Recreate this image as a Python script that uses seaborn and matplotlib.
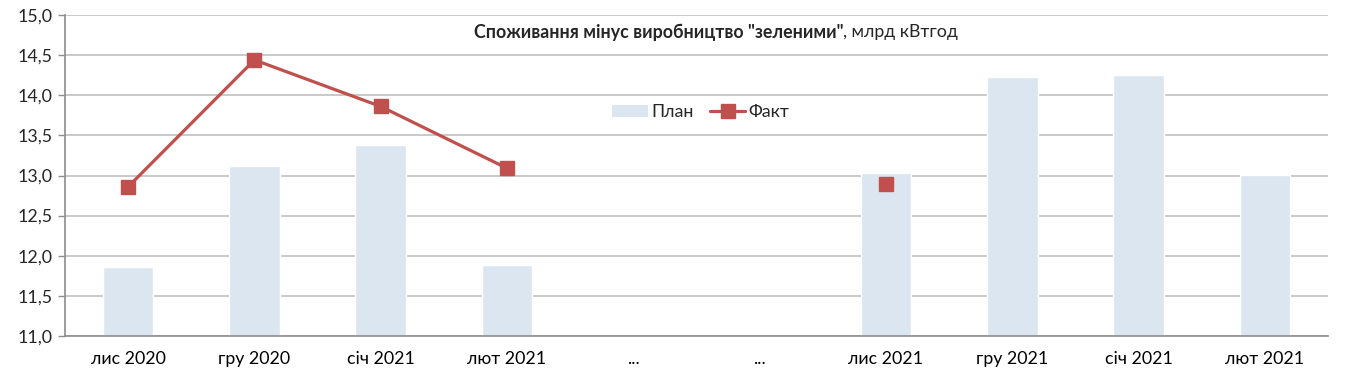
import numpy as np
import matplotlib
matplotlib.use("Agg")
import matplotlib.pyplot as plt
import seaborn as sns
import pandas as pd
from matplotlib.patches import Patch
from matplotlib.lines import Line2D
from matplotlib.ticker import FuncFormatter, MultipleLocator

categories = ["лис 2020", "гру 2020", "січ 2021", "лют 2021", "...", "...",
              "лис 2021", "гру 2021", "січ 2021", "лют 2021"]
plan = [11.86, 13.12, 13.38, 11.88, np.nan, np.nan, 13.03, 14.23, 14.25, 13.01]
fact = [12.86, 14.44, 13.86, 13.09, np.nan, np.nan, 12.90, np.nan, np.nan, np.nan]
title_bold = 'Споживання мінус виробництво "зеленими"'
title_normal = ', млрд кВтгод'

sns.set_style("white")
plt.rcParams['font.family'] = ['Lato', 'DejaVu Sans']
FS = 12.8

fig = plt.figure(figsize=(13.6, 3.78), dpi=100)
ax = fig.add_axes([65/1360, 1-336/378, (1328-65)/1360, (336-15)/378])

df = pd.DataFrame({"cat": [f"{i}" for i in range(len(categories))], "plan": plan})
sns.barplot(data=df, x="cat", y="plan", color="#dce6f1", saturation=1, width=0.40, ax=ax, zorder=2)
ax.plot(range(len(categories)), fact, color="#c0504d", lw=2.3, marker="s", ms=10, zorder=4)

ax.set_ylim(11, 15)
ax.set_xlim(-0.5, len(categories) - 0.5)
ax.yaxis.set_major_locator(MultipleLocator(0.5))
ax.yaxis.set_major_formatter(FuncFormatter(lambda v, p: f"{v:.1f}".replace(".", ",")))
ax.grid(axis="y", color="#c0c0c0", lw=1.2, zorder=0)
ax.set_axisbelow(True)
ax.set_xticks(range(len(categories)))
ax.set_xticklabels(categories)
ax.set_xlabel("")
ax.set_ylabel("")
ax.set_xticks(np.arange(-0.5, len(categories)), minor=True)
ax.tick_params(axis="x", which="major", length=0, pad=11, labelsize=FS, colors="#000000")
ax.tick_params(axis="x", which="minor", length=5, width=1, color="#8c8c8c", direction="out")
ax.tick_params(axis="y", length=5, width=1, color="#8c8c8c", labelsize=FS, pad=4, direction="out", left=True)
for s in ["top", "right"]:
    ax.spines[s].set_visible(False)
for s in ["left", "bottom"]:
    ax.spines[s].set_color("#8c8c8c")
    ax.spines[s].set_linewidth(1.2)

fig.text(843/1360, 1-32/378, title_bold, ha="right", va="center", fontsize=FS, fontweight="bold")
fig.text(843/1360, 1-32/378, title_normal, ha="left", va="center", fontsize=FS)

handles = [Patch(facecolor="#dce6f1", edgecolor="none"),
           Line2D([], [], color="#c0504d", lw=2.3, marker="s", ms=10)]
fig.legend(handles, ["План", "Факт"], loc="center", bbox_to_anchor=(701/1360, 1-112/378),
           ncol=2, frameon=False, fontsize=FS, handlelength=2.0, columnspacing=0.9, handletextpad=0.2)

fig.savefig("out.png", dpi=100)
